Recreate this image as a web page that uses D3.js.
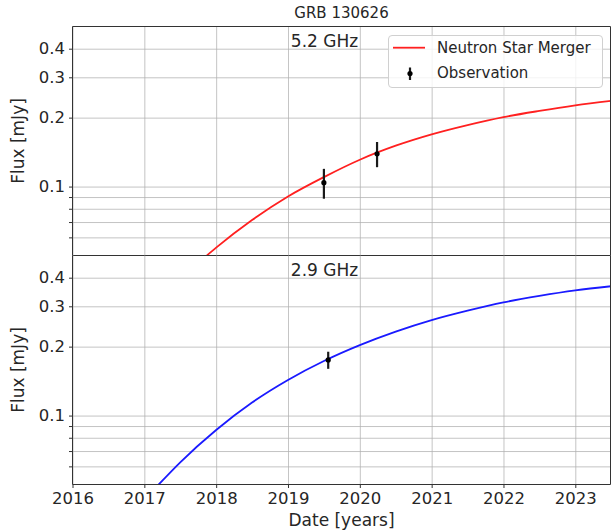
<!DOCTYPE html>
<html>
<head>
<meta charset="utf-8">
<script src="https://cdn.jsdelivr.net/npm/d3@7"></script>
<style>
  html, body { margin: 0; padding: 0; background: #fff; }
  svg { display: block; font-family: "DejaVu Sans", sans-serif; }
</style>
</head>
<body>
<svg id="chart" width="611" height="531"></svg>
<script>
// ---------- data ----------
const title = "GRB 130626";
const xTickYears = [2016, 2017, 2018, 2019, 2020, 2021, 2022, 2023];
const yTickMajor = [0.1, 0.2, 0.3, 0.4];
const yTickMajorLabels = ["0.1", "0.2", "0.3", "0.4"];
const yTickMinor = [0.06, 0.07, 0.08, 0.09];

// 5.2 GHz model (Neutron Star Merger)
const modelYears52 = [2017.87, 2018.0, 2018.5, 2019.0, 2019.5, 2020.0, 2020.5, 2021.0, 2021.5, 2022.0, 2022.5, 2023.0, 2023.5];
const modelFlux52  = [0.0500, 0.0541, 0.0714, 0.0905, 0.1100, 0.1310, 0.1508, 0.1690, 0.1855, 0.2010, 0.2140, 0.2262, 0.2367];
// 5.2 GHz observations
const obsYears52 = [2019.50, 2020.24];
const obsFlux52  = [0.104, 0.139];
const obsErr52   = [0.0155, 0.0175];

// 2.9 GHz model
const modelYears29 = [2017.2, 2017.5, 2018.0, 2018.5, 2019.0, 2019.5, 2020.0, 2020.5, 2021.0, 2021.5, 2022.0, 2022.5, 2023.0, 2023.5];
const modelFlux29  = [0.0500, 0.0625, 0.0865, 0.1140, 0.1430, 0.1730, 0.2030, 0.2325, 0.2610, 0.2870, 0.3120, 0.3330, 0.3520, 0.3670];
// 2.9 GHz observations
const obsYears29 = [2019.56];
const obsFlux29  = [0.175];
const obsErr29   = [0.015];

const panels = [
  { label: "5.2 GHz", color: "#ff2020", mYears: modelYears52, mFlux: modelFlux52,
    oYears: obsYears52, oFlux: obsFlux52, oErr: obsErr52, top: 26.5, bottom: 255.5, legend: true },
  { label: "2.9 GHz", color: "#1a1aff", mYears: modelYears29, mFlux: modelFlux29,
    oYears: obsYears29, oFlux: obsFlux29, oErr: obsErr29, top: 255.5, bottom: 484.5, legend: false }
];

// ---------- drawing ----------
const svg = d3.select("#chart");
const left = 72.5, right = 610.5;
const textColor = "#262626";
const spineColor = "#333";
const x = d3.scaleLinear().domain([2016, 2023.49]).range([left, right]);

svg.append("text").attr("x", (left + right) / 2).attr("y", 18)
  .attr("text-anchor", "middle").attr("font-size", 15).attr("fill", textColor).text(title);

panels.forEach((p, i) => {
  const y = d3.scaleLog().domain([0.05, 0.5]).range([p.bottom, p.top]);
  const g = svg.append("g");
  const clipId = "clip" + i;
  svg.append("clipPath").attr("id", clipId).append("rect")
    .attr("x", left).attr("y", p.top).attr("width", right - left).attr("height", p.bottom - p.top);

  // grid
  const allY = yTickMinor.concat(yTickMajor);
  g.append("g").attr("transform", `translate(${left},0)`)
    .call(d3.axisLeft(y).tickValues(allY).tickSize(-(right - left)).tickFormat(""))
    .call(a => a.select(".domain").remove())
    .call(a => a.selectAll("line").attr("stroke", "#b0b0b0").attr("stroke-width", 1).attr("stroke-opacity", 0.75));
  g.append("g").attr("transform", `translate(0,${p.bottom})`)
    .call(d3.axisBottom(x).tickValues(xTickYears).tickSize(-(p.bottom - p.top)).tickFormat(""))
    .call(a => a.select(".domain").remove())
    .call(a => a.selectAll("line").attr("stroke", "#b0b0b0").attr("stroke-width", 1).attr("stroke-opacity", 0.75));

  // model curve
  const line = d3.line().x((d) => x(d[0])).y((d) => y(d[1])).curve(d3.curveMonotoneX);
  g.append("path").datum(p.mYears.map((t, k) => [t, p.mFlux[k]]))
    .attr("clip-path", `url(#${clipId})`)
    .attr("fill", "none").attr("stroke", p.color).attr("stroke-width", 1.8).attr("d", line);

  // observations
  p.oYears.forEach((t, k) => {
    g.append("line").attr("x1", x(t)).attr("x2", x(t))
      .attr("y1", y(p.oFlux[k] - p.oErr[k])).attr("y2", y(p.oFlux[k] + p.oErr[k]))
      .attr("stroke", "#1a1a1a").attr("stroke-width", 2.2);
    g.append("circle").attr("cx", x(t)).attr("cy", y(p.oFlux[k])).attr("r", 2.6).attr("fill", "#000");
  });

  // y axis ticks + labels
  g.append("g").attr("transform", `translate(${left},0)`)
    .call(d3.axisLeft(y).tickValues(allY).tickSize(3.5).tickPadding(4)
      .tickFormat(d => { const j = yTickMajor.indexOf(d); return j >= 0 ? yTickMajorLabels[j] : ""; }))
    .call(a => a.select(".domain").remove())
    .call(a => a.selectAll("line").attr("stroke", spineColor))
    .call(a => a.selectAll("text").attr("font-size", 16.5).attr("fill", textColor)
      .attr("font-family", "DejaVu Sans, sans-serif"));

  // panel label
  g.append("text").attr("x", x(2019.04)).attr("y", p.top + 20)
    .attr("font-size", 17).attr("fill", textColor).text(p.label);

  // y label
  g.append("text").attr("transform", `translate(24,${(p.top + p.bottom) / 2}) rotate(-90)`)
    .attr("text-anchor", "middle").attr("font-size", 17).attr("fill", textColor).text("Flux [mJy]");

  if (p.legend) {
    const lg = g.append("g");
    lg.append("rect").attr("x", 388.5).attr("y", 35.5).attr("width", 214).attr("height", 52)
      .attr("rx", 3.5).attr("fill", "#fff").attr("fill-opacity", 0.8).attr("stroke", "#d0d0d0");
    lg.append("line").attr("x1", 393).attr("x2", 425).attr("y1", 47.7).attr("y2", 47.7)
      .attr("stroke", p.color).attr("stroke-width", 1.8);
    lg.append("text").attr("x", 437).attr("y", 53.3).attr("font-size", 15).attr("fill", textColor).text("Neutron Star Merger");
    lg.append("line").attr("x1", 410).attr("x2", 410).attr("y1", 67.5).attr("y2", 80)
      .attr("stroke", "#1a1a1a").attr("stroke-width", 2.2);
    lg.append("circle").attr("cx", 410).attr("cy", 73.5).attr("r", 2.6).attr("fill", "#000");
    lg.append("text").attr("x", 437).attr("y", 77.7).attr("font-size", 15).attr("fill", textColor).text("Observation");
  }

  // spines (left, right, top of the first panel, bottom of each)
  g.append("line").attr("x1", left).attr("x2", left).attr("y1", p.top).attr("y2", p.bottom)
    .attr("stroke", spineColor).attr("stroke-width", 1);
  g.append("line").attr("x1", right).attr("x2", right).attr("y1", p.top).attr("y2", p.bottom)
    .attr("stroke", spineColor).attr("stroke-width", 1);
  if (i === 0) {
    g.append("line").attr("x1", left).attr("x2", right).attr("y1", p.top).attr("y2", p.top)
      .attr("stroke", spineColor).attr("stroke-width", 1);
  }
  g.append("line").attr("x1", left).attr("x2", right).attr("y1", p.bottom).attr("y2", p.bottom)
    .attr("stroke", spineColor).attr("stroke-width", 1);

  // x axis on bottom panel
  if (i === panels.length - 1) {
    g.append("g").attr("transform", `translate(0,${p.bottom})`)
      .call(d3.axisBottom(x).tickValues(xTickYears).tickSize(3.5).tickPadding(4).tickFormat(d3.format("d")))
      .call(a => a.select(".domain").remove())
      .call(a => a.selectAll("line").attr("stroke", spineColor))
      .call(a => a.selectAll("text").attr("font-size", 16.5).attr("fill", textColor)
        .attr("font-family", "DejaVu Sans, sans-serif"));
    svg.append("text").attr("x", (left + right) / 2).attr("y", 526)
      .attr("text-anchor", "middle").attr("font-size", 17).attr("fill", textColor).text("Date [years]");
  }
});
</script>
</body>
</html>
